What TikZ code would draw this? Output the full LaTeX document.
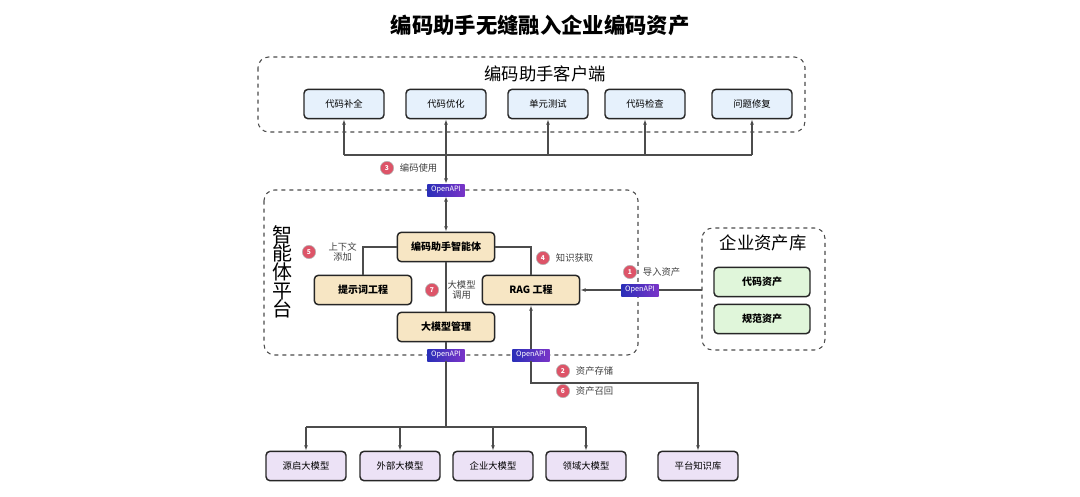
\documentclass[tikz,border=0pt]{standalone}
\usepackage{fontspec}
\setmainfont{Noto Sans CJK SC}
\usetikzlibrary{arrows.meta}
\usetikzlibrary{positioning}

\definecolor{clientfill}{HTML}{E6F1FC}
\definecolor{corefill}{HTML}{F7E6C4}
\definecolor{assetfill}{HTML}{E0F6DA}
\definecolor{modelfill}{HTML}{ECE2F6}
\definecolor{apiblue}{HTML}{2A2FB8}
\definecolor{apipurple}{HTML}{7A34C8}
\definecolor{badgered}{HTML}{DD5468}

\tikzset{
  box/.style={draw=black!85,line width=1.1pt,rounded corners=3pt,minimum width=60pt,minimum height=22pt,font=\fontsize{7}{8}\selectfont},
  core/.style={box,fill=corefill,minimum width=73pt,font=\fontsize{7.5}{9}\selectfont\bfseries},
  api/.style={inner sep=0pt,minimum width=28pt,minimum height=9pt,left color=apiblue,right color=apipurple,text=white,font=\fontsize{5.5}{6}\selectfont},
  badge/.style={circle,fill=badgered,draw=black!30,inner sep=0pt,minimum size=10pt,text=white,font=\fontsize{5}{5}\selectfont\bfseries},
  note/.style={font=\fontsize{7}{8}\selectfont,text=black!75,align=center},
  frame/.style={draw=black!70,dashed,line width=0.8pt,rounded corners=8pt},
  link/.style={draw=black!70,line width=0.8pt},
  arr/.style={link,-{Latex[length=4pt,width=3pt]}}
}

\begin{document}
\begin{tikzpicture}[x=0.75pt,y=-0.75pt]
    \useasboundingbox (0,0) rectangle (1080,496);

    \node[font=\fontsize{16}{18}\selectfont\bfseries] (title) at (540,25) {编码助手无缝融入企业编码资产};

    % client frame
    \draw[frame] (258,57) rectangle (805,132);
    \node[font=\fontsize{13}{14}\selectfont] (clientlbl) at (545,74) {编码助手客户端};
    \foreach \name/\x/\txt in {cmp/344/代码补全,opt/446/代码优化,ut/548/单元测试,chk/645/代码检查,fix/752/问题修复}
        \node[box,fill=clientfill] (\name) at (\x,104) {\txt};

    % platform frame
    \draw[frame] (264,190) rectangle (638,355);
    \node[font=\fontsize{15}{17}\selectfont,align=center,inner sep=0pt] (platlbl) at (282,272) {智\\[-3pt]能\\[-3pt]体\\[-3pt]平\\[-3pt]台};
    \node[core] (agent) at (446,247) {编码助手智能体};
    \node[core] (prompt) at (363,290) {提示词工程};
    \node[core] (rag) at (531,290) {RAG 工程};
    \node[core] (llm) at (446,327) {大模型管理};

    % enterprise frame
    \draw[frame] (702,228) rectangle (825,350);
    \node[font=\fontsize{13}{14}\selectfont] (entlbl) at (763,243) {企业资产库};
    \node[box,fill=assetfill,minimum width=72pt,font=\fontsize{7.5}{9}\selectfont\bfseries] (code) at (762,282) {代码资产};
    \node[box,fill=assetfill,minimum width=72pt,font=\fontsize{7.5}{9}\selectfont\bfseries] (spec) at (762,319) {规范资产};

    % bottom row
    \foreach \name/\x/\txt in {oss/306/源启大模型,ext/400/外部大模型,ent/493/企业大模型,dom/586/领域大模型,kb/698/平台知识库}
        \node[box,fill=modelfill] (\name) at (\x,466) {\txt};

    % openapi badges
    \node[api] (apitop) at (446,190) {OpenAPI};
    \node[api] (apiimp) at (640,290) {OpenAPI};
    \node[api] (apillm) at (446,355) {OpenAPI};
    \node[api] (apirag) at (531,355) {OpenAPI};

    % client connectors
    \coordinate (bus) at (446,155);
    \draw[link] (cmp.south |- bus) -- (fix.south |- bus);
    \foreach \name in {cmp,opt,ut,chk,fix}
        \draw[arr] (\name.south |- bus) -- (\name.south);
    \draw[arr] (bus) -- (apitop.north);
    \draw[arr,{Latex[length=4pt,width=3pt]}-{Latex[length=4pt,width=3pt]}] (apitop.south) -- (agent.north);

    % platform connectors
    \draw[link] (agent.west) -| (prompt.north);
    \draw[link] (agent.east) -| (rag.north);
    \draw[link] (agent.south) -- (llm.north);
    \draw[link] (llm.south) -- (apillm.north);
    \draw[arr] (apirag.north) -- (rag.south);
    \draw[link] (702,290) -- (apiimp.east);
    \draw[arr] (apiimp.west) -- (rag.east);

    % model connectors
    \coordinate (mbus) at (446,427);
    \draw[link] (apillm.south) -- (mbus);
    \draw[link] (oss.north |- mbus) -- (dom.north |- mbus);
    \foreach \name in {oss,ext,ent,dom}
        \draw[arr] (\name.north |- mbus) -- (\name.north);
    \coordinate (kbturn) at (531,383);
    \draw[arr] (apirag.south) -- (kbturn) -| (kb.north);

    % step labels
    \node[badge] (b3) at (387,168) {3};
    \node[note,right=1pt of b3] {编码使用};
    \node[badge] (b5) at (309,252) {5};
    \node[note,right=6pt of b5] {上下文\\添加};
    \node[badge] (b4) at (543,258) {4};
    \node[note,right=1pt of b4] {知识获取};
    \node[badge] (b1) at (630,272) {1};
    \node[note,right=1pt of b1] {导入资产};
    \node[badge] (b7) at (432,290) {7};
    \node[note,right=3pt of b7] {大模型\\调用};
    \node[badge] (b2) at (563,371) {2};
    \node[note,right=1pt of b2] {资产存储};
    \node[badge] (b6) at (563,391) {6};
    \node[note,right=1pt of b6] {资产召回};
\end{tikzpicture}
\end{document}
